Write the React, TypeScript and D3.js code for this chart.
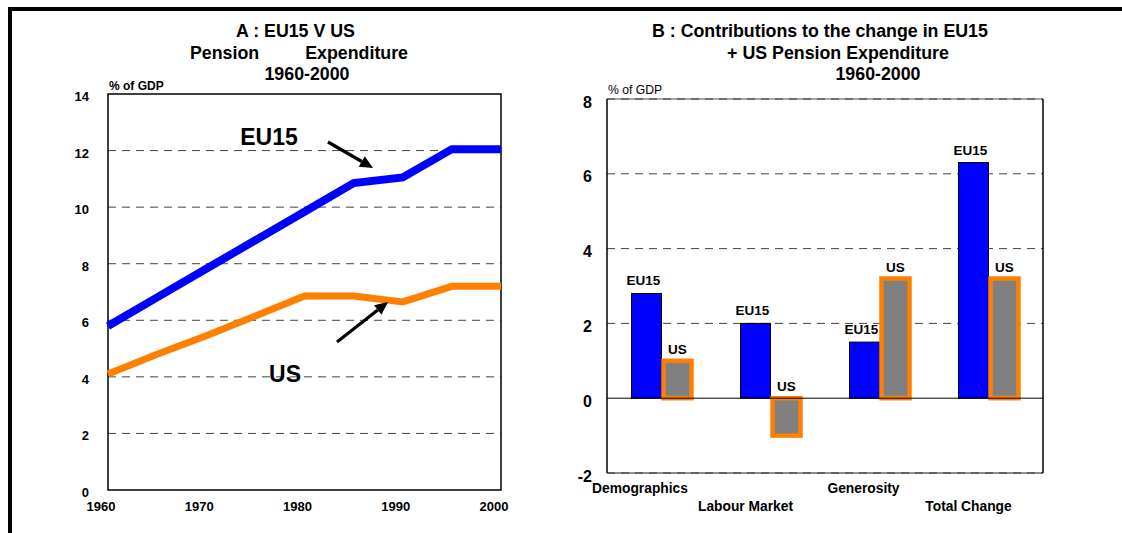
import React from "react";
import * as d3 from "d3";

// ---------- Panel A data ----------
const years = [1960, 1965, 1970, 1975, 1980, 1985, 1990, 1995, 2000];
const eu15Line = [5.8, 6.81, 7.82, 8.83, 9.84, 10.85, 11.05, 12.05, 12.05];
const usLine = [4.1, 4.8, 5.45, 6.15, 6.86, 6.86, 6.65, 7.2, 7.2];
const yTicksA = [0, 2, 4, 6, 8, 10, 12, 14];
const xTicksA = [1960, 1970, 1980, 1990, 2000];

// ---------- Panel B data ----------
const categories = ["Demographics", "Labour Market", "Generosity", "Total Change"];
const eu15Bars = [2.8, 2.0, 1.5, 6.3];
const usBars = [1.0, -1.0, 3.2, 3.2];
const yTicksB = [-2, 0, 2, 4, 6, 8];

const FONT = "'Liberation Sans', Arial, Helvetica, sans-serif";

function Arrow({ x1, y1, x2, y2 }: { x1: number; y1: number; x2: number; y2: number }) {
  const ang = Math.atan2(y2 - y1, x2 - x1);
  const L = 13, W = 6;
  const bx = x2 - L * Math.cos(ang), by = y2 - L * Math.sin(ang);
  const px = -Math.sin(ang) * W, py = Math.cos(ang) * W;
  return (
    <g>
      <line x1={x1} y1={y1} x2={bx} y2={by} stroke="#000" strokeWidth={3.2} />
      <path d={`M${x2},${y2}L${bx + px},${by + py}L${bx - px},${by - py}Z`} fill="#000" />
    </g>
  );
}

export default function App() {
  // Panel A geometry
  const aL = 108, aR = 501, aT = 94, aB = 490;
  const xA = d3.scaleLinear().domain([1960, 2000]).range([aL, aR]);
  const yA = d3.scaleLinear().domain([0, 14]).range([aB, aT]);
  const lineA = d3
    .line<number>()
    .x((_, i) => xA(years[i]))
    .y((d) => yA(d));

  // Panel B geometry
  const bL = 607, bR = 1043, bT = 99, bB = 473;
  const xB = d3.scaleBand<string>().domain(categories).range([bL, bR]);
  const yB = d3.scaleLinear().domain([-2, 8]).range([bB, bT]);
  const barW = 30;
  const catDx = [-21.5, -25, -16, -20];

  return (
    <svg
      width={1122}
      height={533}
      style={{ position: "absolute", left: 0, top: 0, background: "#fff", fontFamily: FONT }}
    >
      <rect x={0} y={0} width={1122} height={533} fill="#fff" />
      {/* outer frame */}
      <path d="M10,533V9H1122" fill="none" stroke="#000" strokeWidth={4} />

      {/* ---------------- Panel A ---------------- */}
      <g fontWeight="bold" fill="#000">
        <text x={295.5} y={37} fontSize={17.8} textAnchor="middle">A : EU15 V US</text>
        <text x={190} y={59} fontSize={17.8}>Pension</text>
        <text x={408} y={59} fontSize={17.8} textAnchor="end">Expenditure</text>
        <text x={307} y={80} fontSize={17.8} textAnchor="middle">1960-2000</text>
        <text x={109} y={90} fontSize={12}>% of GDP</text>
      </g>
      {yTicksA.map((t) => (
        <g key={"ga" + t}>
          {t > 0 && t < 14 && (
            <line x1={aL} x2={aR} y1={yA(t)} y2={yA(t)} stroke="#444" strokeWidth={1} strokeDasharray="8,6" />
          )}
          <text x={89} y={yA(t) + 7} fontSize={13} fontWeight="bold" textAnchor="end">{t}</text>
        </g>
      ))}
      <rect x={aL} y={aT} width={aR - aL} height={aB - aT} fill="none" stroke="#000" strokeWidth={1.5} />
      {xTicksA.map((t) => (
        <text key={"xa" + t} x={xA(t) - 7} y={511} fontSize={13} fontWeight="bold" textAnchor="middle">{t}</text>
      ))}
      <path d={lineA(usLine) || ""} fill="none" stroke="#FF8000" strokeWidth={7} />
      <path d={lineA(eu15Line) || ""} fill="none" stroke="#0000FF" strokeWidth={8} />
      <text x={269} y={145} fontSize={23} fontWeight="bold" textAnchor="middle">EU15</text>
      <text x={285} y={382} fontSize={23} fontWeight="bold" textAnchor="middle">US</text>
      <Arrow x1={328} y1={142} x2={373} y2={168} />
      <Arrow x1={337} y1={342} x2={388} y2={302} />

      {/* ---------------- Panel B ---------------- */}
      <g fontWeight="bold" fill="#000">
        <text x={652} y={37} fontSize={17.8}>B : Contributions to the change in EU15</text>
        <text x={838} y={59} fontSize={17.8} textAnchor="middle">+ US Pension Expenditure</text>
        <text x={878} y={80} fontSize={17.8} textAnchor="middle">1960-2000</text>
      </g>
      <text x={608} y={94} fontSize={12.2}>% of GDP</text>
      {yTicksB.map((t) => (
        <g key={"gb" + t}>
          {t !== 0 && (
            <line x1={bL} x2={bR} y1={yB(t)} y2={yB(t)} stroke="#444" strokeWidth={1} strokeDasharray="8,6" />
          )}
          <text x={592} y={yB(t) + 8.5} fontSize={16} fontWeight="bold" textAnchor="end">{t}</text>
        </g>
      ))}
      <line x1={bL} x2={bL} y1={bT} y2={bB} stroke="#000" strokeWidth={1.5} />
      <line x1={bR} x2={bR} y1={bT} y2={bB} stroke="#000" strokeWidth={1.5} />
      <line x1={bL} x2={bR} y1={bB} y2={bB} stroke="#222" strokeWidth={1} />
      <line x1={bL} x2={bR} y1={bT} y2={bT} stroke="#222" strokeWidth={0.8} />
      {categories.map((c, i) => {
        const cx = (xB(c) || 0) + xB.bandwidth() / 2;
        const e = eu15Bars[i];
        const u = usBars[i];
        const y0 = yB(0);
        return (
          <g key={c}>
            <rect
              x={cx - barW}
              y={Math.min(yB(e), y0)}
              width={barW}
              height={Math.abs(yB(e) - y0)}
              fill="#0000FF"
              stroke="#000"
              strokeWidth={1}
            />
            <rect
              x={cx + 2}
              y={Math.min(yB(u), y0)}
              width={28}
              height={Math.abs(yB(u) - y0)}
              fill="#808080"
              stroke="#FF8000"
              strokeWidth={4.5}
            />
            <text x={cx - barW / 2 - 3} y={Math.min(yB(e), y0) - 8} fontSize={13.5} fontWeight="bold" textAnchor="middle">EU15</text>
            <text x={cx + 16} y={Math.min(yB(u), y0) - 7} fontSize={13.5} fontWeight="bold" textAnchor="middle">US</text>
            <text
              x={cx + catDx[i]}
              y={i % 2 === 0 ? 493 : 511}
              fontSize={13.8}
              fontWeight="bold"
              textAnchor="middle"
            >
              {c}
            </text>
          </g>
        );
      })}
      <line x1={bL} x2={bR} y1={yB(0)} y2={yB(0)} stroke="#000" strokeWidth={1} />
    </svg>
  );
}
